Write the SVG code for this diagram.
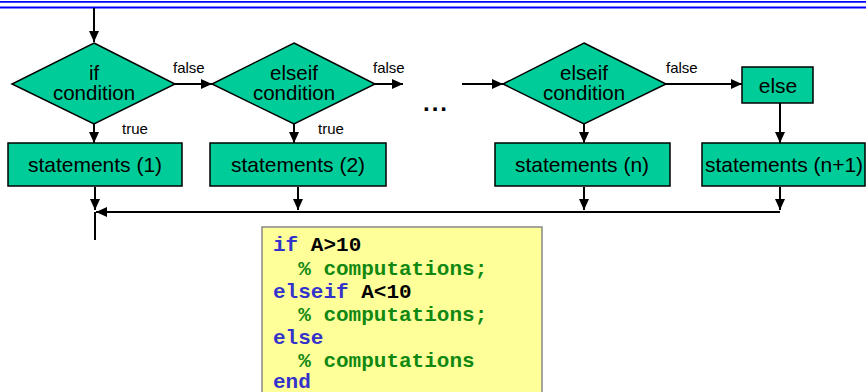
<svg xmlns="http://www.w3.org/2000/svg" width="866" height="392" viewBox="0 0 866 392">
<defs>
<marker id="ah" viewBox="0 0 11 10" refX="11" refY="5" markerWidth="11" markerHeight="10" markerUnits="userSpaceOnUse" orient="auto">
<path d="M0,0 L11,5 L0,10 z" fill="#000"/>
</marker>
</defs>
<style>
.node{fill:#00cc99;stroke:#000;stroke-width:1.5}
.t{font-family:"Liberation Sans",Arial,sans-serif;font-size:21px;fill:#000;text-anchor:middle}
.d{font-size:20.5px}
.lbl{font-family:"Liberation Sans",Arial,sans-serif;font-size:15px;fill:#000}
.c{fill:none;stroke:#000;stroke-width:2}
.a{marker-end:url(#ah)}
.code{font-family:"Liberation Mono","Courier New",monospace;font-size:21px;font-weight:bold}
.kw{fill:#3333cc}
.cm{fill:#118811}
.bl{fill:#000}
</style>
<rect width="866" height="392" fill="#fff"/>
<g id="header">
<line x1="0" y1="1.8" x2="866" y2="1.8" stroke="#0000ff" stroke-width="1.8"/>
<line x1="0" y1="7.5" x2="866" y2="7.5" stroke="#0000ff" stroke-width="1.8"/>
</g>
<g id="connectors">
<line class="c a" x1="94" y1="8" x2="94" y2="42"/>
<line class="c a" x1="175" y1="84" x2="212" y2="84"/>
<line class="c a" x1="375" y1="84" x2="403" y2="84"/>
<line class="c a" x1="462" y1="84" x2="503" y2="84"/>
<line class="c a" x1="666" y1="84" x2="742" y2="84"/>
<line class="c a" x1="94" y1="124" x2="94" y2="143"/>
<line class="c a" x1="294" y1="124" x2="294" y2="143"/>
<line class="c a" x1="584" y1="124" x2="584" y2="143"/>
<line class="c a" x1="780" y1="103" x2="780" y2="143"/>
<line class="c a" x1="95" y1="187" x2="95" y2="210"/>
<line class="c a" x1="298" y1="187" x2="298" y2="210"/>
<line class="c a" x1="584" y1="187" x2="584" y2="210"/>
<line class="c a" x1="780" y1="187" x2="780" y2="210"/>
<line class="c a" x1="780" y1="212" x2="96" y2="212"/>
<line class="c" x1="95" y1="212" x2="95" y2="240"/>
<text class="lbl" x="173" y="73">false</text>
<text class="lbl" x="373" y="73">false</text>
<text class="lbl" x="666" y="73">false</text>
<text class="lbl" x="122" y="134">true</text>
<text class="lbl" x="318" y="134">true</text>
</g>
<g id="cond1">
<polygon class="node" points="94,43 175,84 94,124 12,84"/>
<text class="t d" x="94" y="80">if</text>
<text class="t d" x="94" y="100">condition</text>
</g>
<g id="cond2">
<polygon class="node" points="294,43 375,84 294,124 212,84"/>
<text class="t d" x="294" y="80">elseif</text>
<text class="t d" x="294" y="100">condition</text>
</g>
<g id="ellipsis">
<text x="423" y="111" style="font-family:'Liberation Sans',Arial,sans-serif;font-size:24px;font-weight:bold;letter-spacing:2px">...</text>
</g>
<g id="condn">
<polygon class="node" points="584,43 666,84 584,124 503,84"/>
<text class="t d" x="584" y="80">elseif</text>
<text class="t d" x="584" y="100">condition</text>
</g>
<g id="else">
<rect class="node" x="742" y="67" width="71" height="36"/>
<text class="t" x="778" y="93">else</text>
</g>
<g id="stmt1">
<rect class="node" x="8" y="143" width="174" height="43"/>
<text class="t" x="95" y="172">statements (1)</text>
</g>
<g id="stmt2">
<rect class="node" x="210" y="143" width="176" height="43"/>
<text class="t" x="298" y="172">statements (2)</text>
</g>
<g id="stmtn">
<rect class="node" x="495" y="143" width="175" height="43"/>
<text class="t" x="582" y="172">statements (n)</text>
</g>
<g id="stmtn1">
<rect class="node" x="702" y="143" width="163" height="43"/>
<text class="t" x="784" y="172">statements (n+1)</text>
</g>
<g id="code">
<rect x="262" y="227" width="280" height="175" fill="#ffff99" stroke="#888" stroke-width="1.5"/>
<text class="code" x="273" y="251"><tspan class="kw">if</tspan><tspan class="bl"> A&gt;10</tspan></text>
<text class="code cm" x="273" y="275" xml:space="preserve">  % computations;</text>
<text class="code" x="273" y="298"><tspan class="kw">elseif</tspan><tspan class="bl"> A&lt;10</tspan></text>
<text class="code cm" x="273" y="321" xml:space="preserve">  % computations;</text>
<text class="code kw" x="273" y="344">else</text>
<text class="code cm" x="273" y="367" xml:space="preserve">  % computations</text>
<text class="code kw" x="273" y="388">end</text>
</g>
</svg>
